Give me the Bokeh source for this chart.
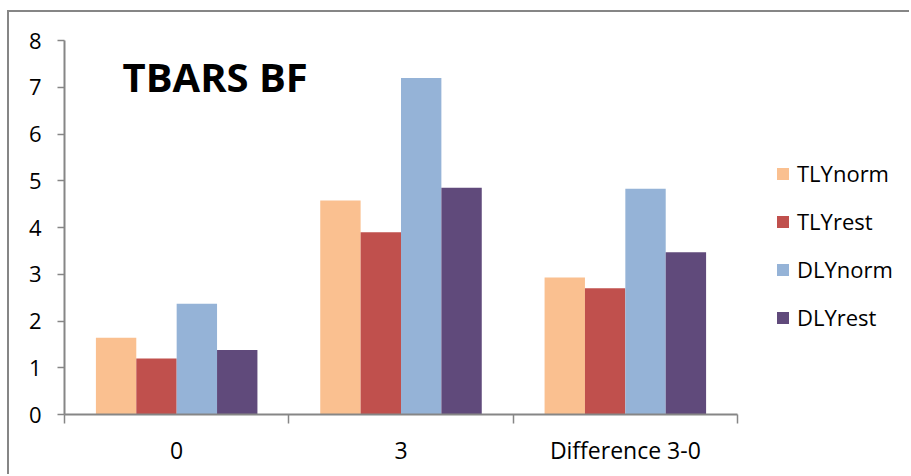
from bokeh.plotting import figure
from bokeh.models import Range1d, FixedTicker, Label, ColumnDataSource
from bokeh.embed import file_html
from bokeh.resources import INLINE

# Data
categories = ["0", "3", "Difference 3-0"]
series = ["TLYnorm", "TLYrest", "DLYnorm", "DLYrest"]
tly_norm = [1.64, 4.58, 2.93]
tly_rest = [1.20, 3.90, 2.70]
dly_norm = [2.37, 7.20, 4.83]
dly_rest = [1.38, 4.85, 3.47]
y_ticks = [0, 1, 2, 3, 4, 5, 6, 7, 8]
chart_title = "TBARS BF"

values = [tly_norm, tly_rest, dly_norm, dly_rest]
colors = ["#FAC090", "#C0504D", "#95B3D7", "#604A7B"]
offsets = [-0.27, -0.09, 0.09, 0.27]
bar_width = 0.18

FONT = "Open Sans"
AXIS_COLOR = "#868686"

# Layout in pixels: the plotting frame runs on past the last category so the
# legend can sit to the right of the bars; the axis itself stops at the last category.
W, H = 902, 464
LEFT, TOP, BOTTOM, RIGHT = 55, 28, 62, 5
cat_px = 673 / len(categories)
x_end = (W - LEFT - RIGHT) / cat_px

p = figure(
    width=W, height=H,
    x_range=Range1d(0, x_end), y_range=Range1d(0, 8),
    output_backend="svg", toolbar_location=None,
    min_border_left=LEFT, min_border_top=TOP, min_border_right=RIGHT, min_border_bottom=BOTTOM,
)
p.margin = (10, 0, 0, 7)
p.styles = {"border-top": "2px solid #868686", "border-left": "2px solid #868686"}
p.outline_line_color = None
p.xgrid.visible = False
p.ygrid.visible = False
p.background_fill_color = "white"
p.border_fill_color = "white"

centers = [i + 0.5 for i in range(len(categories))]
for name, vals, col, off in zip(series, values, colors, offsets):
    src = ColumnDataSource(dict(x=[c + off for c in centers], top=vals))
    p.vbar(x="x", top="top", width=bar_width, source=src, fill_color=col,
           line_color=None, legend_label=name)

# x axis: labels at category centres, tick marks at category boundaries
xa = p.xaxis[0]
xa.bounds = (0, len(categories))
xa.ticker = FixedTicker(ticks=centers, minor_ticks=list(range(len(categories) + 1)))
xa.major_label_overrides = {c: lab for c, lab in zip(centers, categories)}
xa.major_tick_in = 0
xa.major_tick_out = 0
xa.minor_tick_in = 0
xa.minor_tick_out = 9
xa.minor_tick_line_color = AXIS_COLOR
xa.axis_line_color = AXIS_COLOR
xa.axis_line_width = 2
xa.minor_tick_line_width = 1.5
xa.major_label_text_font = FONT
xa.major_label_text_font_size = "23px"
xa.major_label_text_color = "#000000"
xa.major_label_standoff = 10

ya = p.yaxis[0]
ya.ticker = FixedTicker(ticks=y_ticks, minor_ticks=[])
ya.major_tick_in = 0
ya.major_tick_out = 7
ya.minor_tick_out = 0
ya.major_tick_line_color = AXIS_COLOR
ya.major_tick_line_width = 1.5
ya.axis_line_color = AXIS_COLOR
ya.axis_line_width = 2
ya.major_label_text_font = FONT
ya.major_label_text_font_size = "22px"
ya.major_label_text_color = "#000000"
ya.major_label_standoff = 16

p.add_layout(Label(x=0.2585, y=6.91, y_offset=15, text=chart_title, text_font=FONT,
                   text_font_size="40px", text_font_style="bold",
                   text_color="#000000", text_baseline="alphabetic"))

lg = p.legend[0]
lg.location = (711, 82)
lg.border_line_color = None
lg.background_fill_alpha = 0
lg.padding = 0
lg.margin = 0
lg.glyph_width = 15
lg.glyph_height = 15
lg.label_standoff = 7
lg.spacing = 18
lg.label_text_font = FONT
lg.label_text_font_size = "22px"
lg.label_text_color = "#000000"

open("out.html", "w").write(file_html(p, INLINE))
